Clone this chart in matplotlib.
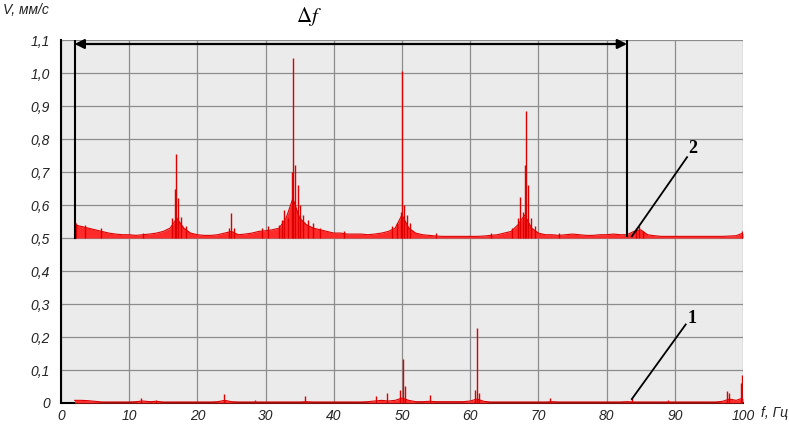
"""
Спектр виброскорости: две кривые (1 — снизу, 2 — со смещением 0,5), полоса Δf
"""

import numpy as np
import matplotlib
matplotlib.use('Agg')
import matplotlib.pyplot as plt

# ---- данные ----
FREQ = np.arange(2, 101, 1.0)   # сетка частот, Гц

# кривая 2: фон (уже со смещением 0,5)
NOISE_2 = [0.540, 0.535, 0.530, 0.525, 0.520, 0.515, 0.512, 0.510, 0.510,            # 2-10
           0.508, 0.510, 0.512, 0.515, 0.520, 0.530, 0.560, 0.530, 0.515, 0.510,     # 11-20
           0.508, 0.508, 0.510, 0.515, 0.520, 0.510, 0.512, 0.515, 0.520, 0.522,     # 21-30
           0.525, 0.530, 0.560, 0.620, 0.560, 0.540, 0.530, 0.525, 0.520, 0.515,     # 31-40
           0.515, 0.512, 0.512, 0.512, 0.510, 0.512, 0.515, 0.520, 0.530, 0.570,     # 41-50
           0.530, 0.515, 0.510, 0.508, 0.506, 0.505, 0.505, 0.505, 0.505, 0.505,     # 51-60
           0.505, 0.506, 0.508, 0.510, 0.515, 0.520, 0.540, 0.570, 0.530, 0.515,     # 61-70
           0.510, 0.510, 0.508, 0.510, 0.512, 0.510, 0.508, 0.508, 0.510, 0.510,     # 71-80
           0.512, 0.510, 0.510, 0.520, 0.525, 0.510, 0.507, 0.505, 0.505, 0.505,     # 81-90
           0.505, 0.505, 0.505, 0.505, 0.505, 0.505, 0.505, 0.506, 0.507, 0.515]     # 91-100

SPIKE_F_2 = [2.2, 3.5, 5.8, 12.0, 16.3, 16.7, 16.9, 17.2, 17.6, 18.3,
             24.6, 24.9, 25.3, 29.5, 30.3, 32.0, 32.4, 32.7, 33.3, 33.8,
             34.0, 34.3, 34.7, 35.0, 35.5, 36.2, 37.0, 38.0, 41.5, 48.5,
             49.3, 49.8, 50.0, 50.3, 50.7, 51.2, 55.0, 63.0, 66.2, 67.0,
             67.3, 67.8, 68.0, 68.2, 68.5, 68.9, 69.5, 73.0, 84.3, 84.7,
             85.3, 99.9]
SPIKE_V_2 = [0.545, 0.540, 0.530, 0.515, 0.560, 0.650, 0.755, 0.620, 0.565, 0.535,
             0.530, 0.575, 0.530, 0.530, 0.535, 0.540, 0.555, 0.585, 0.560, 0.700,
             1.045, 0.720, 0.660, 0.600, 0.570, 0.555, 0.545, 0.530, 0.520, 0.535,
             0.545, 0.580, 1.005, 0.600, 0.570, 0.545, 0.515, 0.515, 0.530, 0.560,
             0.625, 0.580, 0.720, 0.885, 0.660, 0.560, 0.535, 0.515, 0.530, 0.535,
             0.520, 0.520]

# кривая 1: фон
NOISE_1 = [0.008, 0.008, 0.007, 0.005, 0.003, 0.003, 0.003, 0.003, 0.003,            # 2-10
           0.004, 0.006, 0.004, 0.005, 0.003, 0.003, 0.003, 0.003, 0.003, 0.003,     # 11-20
           0.003, 0.003, 0.004, 0.008, 0.004, 0.003, 0.003, 0.003, 0.003, 0.003,     # 21-30
           0.003, 0.003, 0.003, 0.003, 0.003, 0.004, 0.003, 0.003, 0.003, 0.003,     # 31-40
           0.003, 0.003, 0.003, 0.003, 0.004, 0.006, 0.008, 0.006, 0.008, 0.015,     # 41-50
           0.008, 0.004, 0.004, 0.005, 0.004, 0.004, 0.004, 0.004, 0.004, 0.006,     # 51-60
           0.012, 0.005, 0.003, 0.003, 0.003, 0.003, 0.003, 0.003, 0.003, 0.003,     # 61-70
           0.003, 0.004, 0.003, 0.003, 0.003, 0.003, 0.003, 0.003, 0.003, 0.003,     # 71-80
           0.003, 0.003, 0.004, 0.003, 0.003, 0.003, 0.003, 0.003, 0.003, 0.003,     # 81-90
           0.003, 0.003, 0.003, 0.003, 0.003, 0.003, 0.005, 0.012, 0.008, 0.015]     # 91-100

SPIKE_F_1 = [11.8, 14.0, 23.9, 28.5, 35.8, 46.2, 47.8, 49.7, 50.2, 50.5,
             54.1, 60.7, 61.0, 61.3, 71.7, 83.7, 89.0, 97.6, 98.0, 99.7, 99.9]
SPIKE_V_1 = [0.016, 0.010, 0.028, 0.010, 0.020, 0.020, 0.030, 0.040, 0.133, 0.050,
             0.025, 0.040, 0.228, 0.030, 0.015, 0.015, 0.010, 0.035, 0.030, 0.060,
             0.085]

Y_TICKS = [0.0, 0.1, 0.2, 0.3, 0.4, 0.5, 0.6, 0.7, 0.8, 0.9, 1.0, 1.1]
Y_LABELS = ['0', '0,1', '0,2', '0,3', '0,4', '0,5', '0,6', '0,7', '0,8', '0,9', '1,0', '1,1']
X_TICKS = [0, 10, 20, 30, 40, 50, 60, 70, 80, 90, 100]

DF_START, DF_END = 2.0, 83.0

FILL_RED = '#ff2a2a'
LINE_RED = '#dd0000'
SANS = ['Liberation Sans', 'DejaVu Sans']
SERIF = ['Liberation Serif', 'DejaVu Serif']

plt.rcParams['mathtext.fontset'] = 'stix'


def draw_trace(ax, base, noise, sf, sv):
    ax.fill_between(FREQ, base, noise, color=FILL_RED, lw=0, zorder=3)
    ax.plot(FREQ, noise, color=LINE_RED, lw=0.8, zorder=4)
    ax.vlines(sf, base, sv, color=LINE_RED, lw=1.0, zorder=4)


fig = plt.figure(figsize=(7.89, 4.26), dpi=100)
ax = fig.add_axes([0.0773, 0.054, 0.8644, 0.852])
ax.set_facecolor('#ebebeb')

draw_trace(ax, 0.5, NOISE_2, SPIKE_F_2, SPIKE_V_2)
draw_trace(ax, 0.0, NOISE_1, SPIKE_F_1, SPIKE_V_1)

ax.set_xlim(0, 100)
ax.set_ylim(0, 1.1)
ax.set_xticks(X_TICKS)
ax.set_yticks(Y_TICKS)
ax.set_yticklabels(Y_LABELS)
ax.grid(True, color='#8c8c8c', lw=0.9, zorder=1)
ax.set_axisbelow(True)
ax.tick_params(axis='y', length=0, pad=8)
ax.tick_params(axis='x', length=0, pad=4)
for lab in ax.get_xticklabels() + ax.get_yticklabels():
    lab.set_family(SANS)
    lab.set_style('italic')
    lab.set_fontsize(10)
    lab.set_color('#222222')

for s in ['top', 'right']:
    ax.spines[s].set_visible(False)
ax.spines['left'].set_linewidth(1.5)
ax.spines['bottom'].set_linewidth(1.5)

# полоса Δf
ax.annotate('', xy=(DF_START, 1.088), xytext=(DF_END, 1.088),
            arrowprops=dict(arrowstyle='<|-|>', color='black', lw=1.6,
                            mutation_scale=14, shrinkA=0, shrinkB=0), zorder=6)
ax.plot([DF_START, DF_START], [1.1, 0.5], color='black', lw=1.5, zorder=5)
ax.plot([DF_END, DF_END], [1.1, 0.505], color='black', lw=1.5, zorder=5)
ax.text(36.4, 1.17, r'$\Delta f$', fontsize=15, ha='center', va='center', clip_on=False)

# выноски
ax.plot([83.7, 91.8], [0.505, 0.745], color='black', lw=1.3, zorder=6)
ax.text(92.7, 0.77, '2', family=SERIF, fontsize=13, fontweight='bold',
        ha='center', va='center')
ax.plot([83.7, 91.6], [0.012, 0.238], color='black', lw=1.3, zorder=6)
ax.text(92.5, 0.255, '1', family=SERIF, fontsize=13, fontweight='bold',
        ha='center', va='center')

# подписи осей
fig.text(0.004, 0.976, 'V, мм/с', family=SANS, style='italic', fontsize=10,
         color='#222222', ha='left', va='center')
fig.text(0.964, 0.030, 'f, Гц', family=SANS, style='italic', fontsize=10,
         color='#222222', ha='left', va='center')

fig.savefig('out.png', dpi=100)
